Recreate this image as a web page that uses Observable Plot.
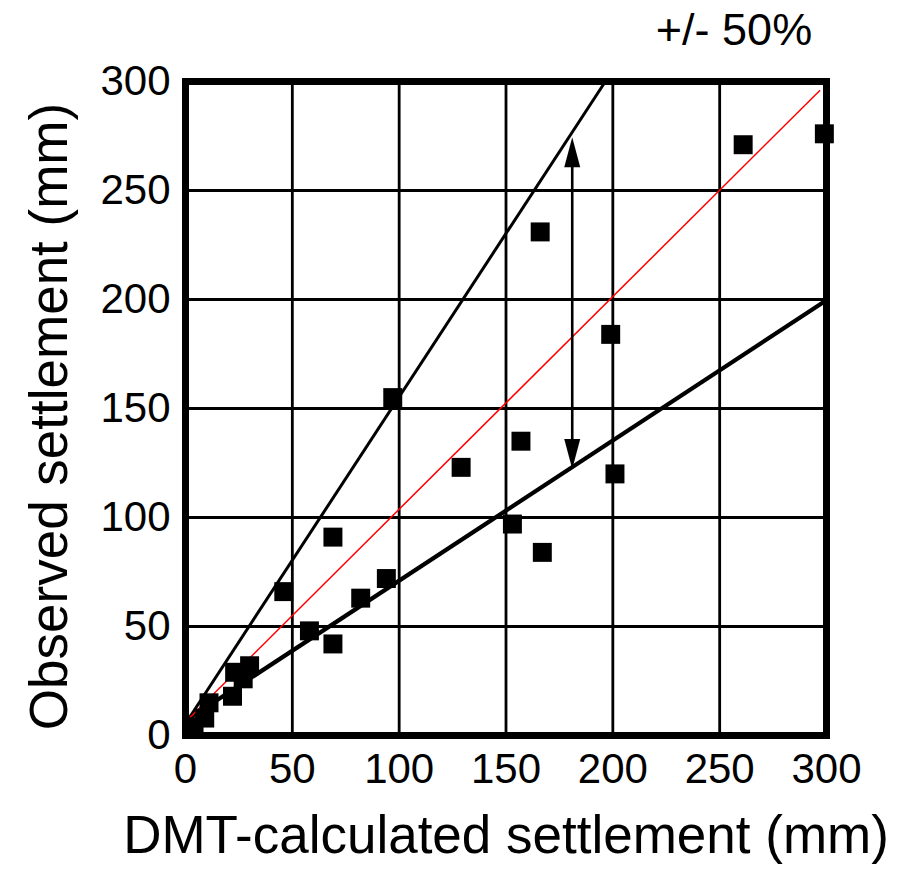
<!DOCTYPE html>
<html><head><meta charset="utf-8">
<script src="https://cdn.jsdelivr.net/npm/d3@7"></script>
<script src="https://cdn.jsdelivr.net/npm/@observablehq/plot@0.6"></script>
<style>body{margin:0;background:#fff}</style>
</head><body><div id="chart"></div>
<script>
// DMT-calculated vs observed settlement (mm)
const dmtCalculated = [4, 9, 11, 22, 23, 27, 30, 46, 58, 69, 69, 82, 94, 97, 129, 153, 157, 166, 167, 199, 201, 261, 299];
const observed      = [4, 8, 15, 18, 29, 26, 32, 66, 48, 91, 42, 63, 72, 155, 123, 97, 135, 231, 84, 184, 120, 271, 276];

const axisTicks = [0, 50, 100, 150, 200, 250, 300];
const gridTicks = [50, 100, 150, 200, 250];

// guide lines (1:1 red, +50% and -50% black)
const guideNames = ["upper", "equal", "lower"];
const guideX1 = [1.5, 1.5, 1.5];
const guideY1 = [7.7, 7.7, 7.7];
const guideX2 = [196.5, 297, 298.7];
const guideY2 = [300, 296, 198.8];
const guideColor = ["black", "red", "black"];
const guideWidth = [3, 1.5, 4.2];

// double arrow
const arrowX = [181, 181];
const arrowTip = [274.4, 122.3];
const arrowDir = [0, 180];

const xLabel = "DMT-calculated settlement (mm)";
const yLabel = "Observed settlement (mm)";
const noteText = "+/- 50%";

const points = dmtCalculated.map((x, i) => ({x, y: observed[i]}));
const guides = guideNames.map((n, i) => ({n, x1: guideX1[i], y1: guideY1[i], x2: guideX2[i], y2: guideY2[i], c: guideColor[i], w: guideWidth[i]}));
const heads = arrowX.map((x, i) => ({x, y: arrowTip[i], r: arrowDir[i]}));
const FONT = "'Liberation Sans', Arial, Helvetica, sans-serif";

const chart = Plot.plot({
  width: 923, height: 869,
  marginLeft: 185, marginRight: 97, marginTop: 81, marginBottom: 134,
  style: {fontFamily: FONT, background: "white", color: "black"},
  x: {domain: [0, 300]},
  y: {domain: [0, 300]},
  marks: [
    Plot.gridX(gridTicks, {stroke: "black", strokeOpacity: 1, strokeWidth: 2.8}),
    Plot.gridY(gridTicks, {stroke: "black", strokeOpacity: 1, strokeWidth: 2.8}),
    Plot.link(guides.filter(d => d.n !== "equal"), {x1: "x1", y1: "y1", x2: "x2", y2: "y2", stroke: "c", strokeWidth: "w"}),
    Plot.link(guides.filter(d => d.n === "equal"), {x1: "x1", y1: "y1", x2: "x2", y2: "y2", stroke: "red", strokeWidth: 1.5}),
    Plot.link([0], {x1: arrowX[0], x2: arrowX[1], y1: arrowTip[1] + 8, y2: arrowTip[0] - 8, stroke: "black", strokeWidth: 2.6}),
    Plot.vector(heads, {x: "x", y: "y", rotate: "r", length: 30, r: 8, shape: "spike", anchor: "end", fill: "black", stroke: "none"}),
    Plot.frame({stroke: "black", strokeWidth: 7}),
    Plot.dot(points, {x: "x", y: "y", symbol: "square", r: 10.7, fill: "black", stroke: "none"}),
    Plot.axisX(axisTicks, {tickSize: 0, tickPadding: 18, fontSize: 42, label: null, tickFormat: d => String(d)}),
    Plot.axisY(axisTicks, {tickSize: 0, tickPadding: 15, fontSize: 42, label: null, tickFormat: d => String(d)}),
    Plot.text([xLabel], {frameAnchor: "bottom", dy: 117, fontSize: 53, text: d => d, fill: "black"}),
    Plot.text([yLabel], {frameAnchor: "left", textAnchor: "middle", dx: -135, dy: 8, rotate: -90, fontSize: 53, text: d => d, fill: "black"}),
    Plot.text([noteText], {frameAnchor: "top", dx: 228, dy: -68, fontSize: 45, text: d => d, fill: "black"})
  ]
});
document.getElementById("chart").appendChild(chart);
</script>
</body></html>
